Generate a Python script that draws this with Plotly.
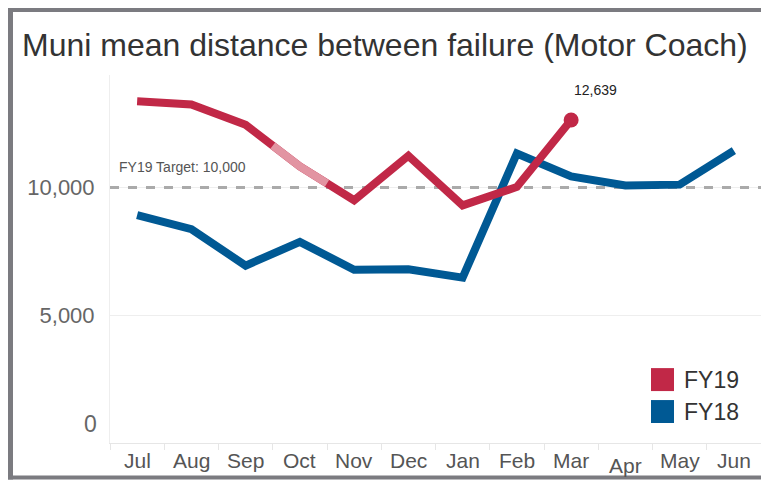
import plotly.graph_objects as go

months = ["Jul", "Aug", "Sep", "Oct", "Nov", "Dec", "Jan", "Feb", "Mar", "Apr", "May", "Jun"]
fy19 = [13370, 13250, 12450, 10820, 9500, 11240, 9300, 10020, 12639]
fy18 = [8920, 8370, 6940, 7870, 6780, 6800, 6470, 11330, 10430, 10080, 10110, 11440]
target = 10000
y_ticks = [5000, 10000]
y_tick_labels = ["5,000", "10,000"]

RED = "#c12847"
RED_LIGHT = "#e294a2"
BLUE = "#005994"

OFF = 8  # page body margin
W, H = 769 - 2 * OFF, 488 - 2 * OFF
ML, MT = 110 - OFF, 75 - OFF
MR = 0
MB = (OFF + H) - 443.5   # keep x-axis at page y 443.5
PW, PH = W - ML - MR, H - MT - MB

def px_x(x):
    # x in page pixels -> paper
    return (x - OFF - ML) / PW

def px_y(y):
    return (H - MB - (y - OFF)) / PH

xi = list(range(len(months)))

fig = go.Figure()

fig.add_trace(go.Scatter(x=[-0.5, len(months) - 0.5], y=[target, target], mode="lines",
                         line=dict(color="#aaaaaa", width=3, dash="dash"),
                         hoverinfo="skip", showlegend=False))

fig.add_trace(go.Scatter(x=xi, y=fy18, mode="lines", name="FY18",
                         line=dict(color=BLUE, width=8), showlegend=False))
fig.add_trace(go.Scatter(x=xi[:len(fy19)], y=fy19, mode="lines", name="FY19",
                         line=dict(color=RED, width=8), showlegend=False))

# highlighted (faded) October portion of FY19
k = months.index("Oct")
hx = [k - 0.5, k, k + 0.5]
hy = [(fy19[k - 1] + fy19[k]) / 2, fy19[k], (fy19[k] + fy19[k + 1]) / 2]
fig.add_trace(go.Scatter(x=hx, y=hy, mode="lines", line=dict(color=RED_LIGHT, width=8),
                         hoverinfo="skip", showlegend=False))

last = len(fy19) - 1
fig.add_trace(go.Scatter(x=[xi[last]], y=[fy19[last]], mode="markers",
                         marker=dict(color=RED, size=15), showlegend=False))

annotations = []
shapes = []

annotations.append(dict(text="Muni mean distance between failure (Motor Coach)",
                        xref="paper", yref="paper", x=px_x(20), y=px_y(45),
                        xanchor="left", yanchor="middle", showarrow=False,
                        font=dict(size=32, color="#333333")))

annotations.append(dict(text=f"{fy19[last]:,}", x=xi[last], y=fy19[last], xref="x", yref="y",
                        xanchor="center", yanchor="middle", yshift=30, xshift=24,
                        showarrow=False, font=dict(size=14, color="#222222")))

annotations.append(dict(text=f"FY19 Target: {target:,}", xref="paper", yref="y",
                        x=px_x(117), y=target, xanchor="left", yanchor="middle", yshift=20,
                        showarrow=False, font=dict(size=14, color="#555555")))

annotations.append(dict(text="0", xref="paper", yref="y", x=px_x(99), y=0,
                        xanchor="right", yanchor="middle", yshift=19, showarrow=False,
                        font=dict(size=23, color="#666666")))

for i, m in enumerate(months):
    annotations.append(dict(text=m, x=i, y=0, xref="x", yref="paper",
                            xanchor="center", yanchor="middle",
                            yshift=-22 if m == "Apr" else -17, showarrow=False,
                            font=dict(size=21, color="#555555")))

for j, (lab, col) in enumerate([("FY19", RED), ("FY18", BLUE)]):
    cy = 380 + 32 * j
    shapes.append(dict(type="rect", xref="paper", yref="paper",
                       x0=px_x(651), x1=px_x(674), y0=px_y(cy + 11.5), y1=px_y(cy - 11.5),
                       fillcolor=col, line=dict(width=0)))
    annotations.append(dict(text=lab, xref="paper", yref="paper", x=px_x(682), y=px_y(cy),
                            xanchor="left", yanchor="middle", showarrow=False,
                            font=dict(size=23, color="#333333")))

# outer frame (left, top, bottom) along the figure edges
frame = "#7b7b80"
x_left, x_right = OFF, OFF + W
y_top, y_bot = OFF, OFF + H
shapes.append(dict(type="rect", xref="paper", yref="paper", x0=px_x(x_left), x1=px_x(x_left + 5),
                   y0=px_y(y_bot), y1=px_y(y_top), fillcolor=frame, line=dict(width=0), layer="above"))
shapes.append(dict(type="rect", xref="paper", yref="paper", x0=px_x(x_left), x1=px_x(x_right),
                   y0=px_y(y_top + 4), y1=px_y(y_top), fillcolor=frame, line=dict(width=0), layer="above"))
shapes.append(dict(type="rect", xref="paper", yref="paper", x0=px_x(x_left), x1=px_x(x_right),
                   y0=px_y(y_bot), y1=px_y(y_bot - 4), fillcolor=frame, line=dict(width=0), layer="above"))

fig.update_layout(
    width=W, height=H,
    margin=dict(l=ML, r=MR, t=MT, b=MB, pad=0),
    paper_bgcolor="white", plot_bgcolor="white",
    font=dict(family="Liberation Sans, Arial, sans-serif"),
    showlegend=False,
    annotations=annotations,
    shapes=shapes,
    xaxis=dict(range=[-0.5, len(months) - 0.5], showgrid=False, zeroline=False,
               showticklabels=False, showline=True, linecolor="#e6e6e6", linewidth=1,
               ticks="", minor=dict(ticks="outside", tick0=-0.5, dtick=1, ticklen=6,
                                   tickcolor="#e6e6e6", showgrid=False),
               fixedrange=True),
    yaxis=dict(range=[0, 14400], tickvals=y_ticks, ticktext=y_tick_labels,
               showgrid=True, gridcolor="#eeeeee", gridwidth=1, zeroline=False,
               showline=True, linecolor="#eeeeee", linewidth=1, ticks="",
               ticklabelstandoff=10,
               tickfont=dict(size=22, color="#666666"), fixedrange=True),
)

fig.write_html("out.html")
